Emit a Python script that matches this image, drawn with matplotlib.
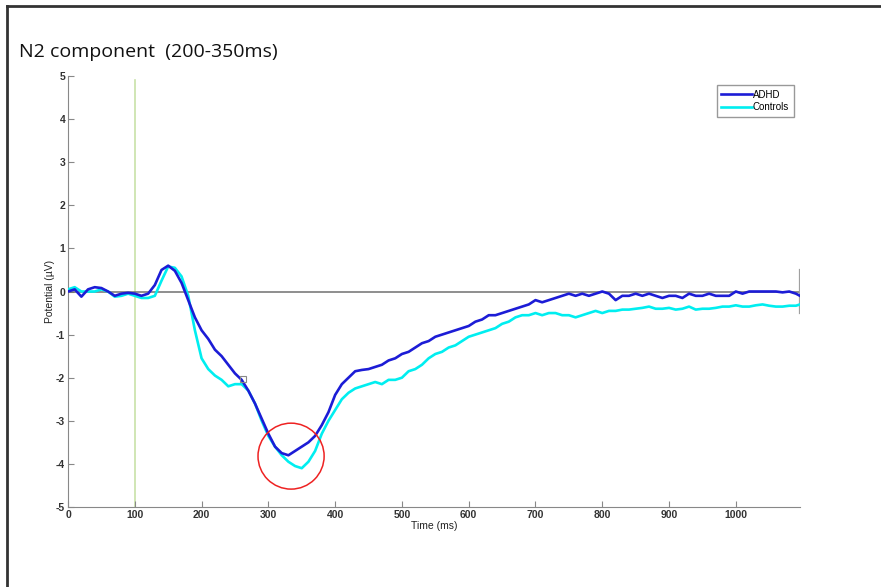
import matplotlib.pyplot as plt
from matplotlib.patches import Ellipse

plt.rcParams['font.family'] = ['Liberation Sans', 'DejaVu Sans']
plt.rcParams['axes.unicode_minus'] = False

time_ms = list(range(0, 1100, 10)) + [1096]

adhd = [0.0, 0.05, -0.12, 0.05, 0.1, 0.08, 0.0, -0.1, -0.05, -0.03,
        -0.05, -0.1, -0.05, 0.15, 0.5, 0.6, 0.48, 0.2, -0.2, -0.6,
        -0.9, -1.1, -1.35, -1.5, -1.7, -1.9, -2.05, -2.3, -2.6, -2.95,
        -3.3, -3.6, -3.75, -3.8, -3.7, -3.6, -3.5, -3.35, -3.1, -2.8,
        -2.4, -2.15, -2.0, -1.85, -1.82, -1.8, -1.75, -1.7, -1.6, -1.55,
        -1.45, -1.4, -1.3, -1.2, -1.15, -1.05, -1.0, -0.95, -0.9, -0.85,
        -0.8, -0.7, -0.65, -0.55, -0.55, -0.5, -0.45, -0.4, -0.35, -0.3,
        -0.2, -0.25, -0.2, -0.15, -0.1, -0.05, -0.1, -0.05, -0.1, -0.05,
        0.0, -0.05, -0.2, -0.1, -0.1, -0.05, -0.1, -0.05, -0.1, -0.15,
        -0.1, -0.1, -0.15, -0.05, -0.1, -0.1, -0.05, -0.1, -0.1, -0.1,
        0.0, -0.05, 0.0, 0.0, 0.0, 0.0, 0.0, -0.02, 0.0, -0.05, -0.1]

controls = [0.05, 0.1, 0.0, 0.0, 0.0, 0.05, 0.0, -0.12, -0.1, -0.05,
            -0.1, -0.15, -0.15, -0.1, 0.25, 0.58, 0.55, 0.35, -0.1, -0.9,
            -1.55, -1.8, -1.95, -2.05, -2.2, -2.15, -2.15, -2.3, -2.6, -3.0,
            -3.35, -3.6, -3.8, -3.95, -4.05, -4.1, -3.95, -3.7, -3.3, -3.0,
            -2.75, -2.5, -2.35, -2.25, -2.2, -2.15, -2.1, -2.15, -2.05, -2.05,
            -2.0, -1.85, -1.8, -1.7, -1.55, -1.45, -1.4, -1.3, -1.25, -1.15,
            -1.05, -1.0, -0.95, -0.9, -0.85, -0.75, -0.7, -0.6, -0.55, -0.55,
            -0.5, -0.55, -0.5, -0.5, -0.55, -0.55, -0.6, -0.55, -0.5, -0.45,
            -0.5, -0.45, -0.45, -0.42, -0.42, -0.4, -0.38, -0.35, -0.4, -0.4,
            -0.38, -0.42, -0.4, -0.35, -0.42, -0.4, -0.4, -0.38, -0.35, -0.35,
            -0.32, -0.35, -0.35, -0.32, -0.3, -0.33, -0.35, -0.35, -0.33, -0.33, -0.3]

fig = plt.figure(figsize=(8.81, 5.87), dpi=100)

# slide frame (top and left edges only)
fig.add_artist(plt.Line2D([0.008, 1.0], [0.99, 0.99], color='#333333', lw=2, transform=fig.transFigure))
fig.add_artist(plt.Line2D([0.008, 0.008], [0.0, 0.99], color='#333333', lw=2, transform=fig.transFigure))

fig.text(0.022, 0.903, 'N2 component  (200-350ms)', fontsize=14, family='Open Sans', color='#111111')

ax = fig.add_axes([0.0772, 0.1363, 0.8308, 0.7342])
ax.plot(time_ms, adhd, color='#1c1cd6', lw=1.9, label='ADHD', zorder=4)
ax.plot(time_ms, controls, color='#00eef0', lw=1.9, label='Controls', zorder=3)

ax.plot([100, 100], [-5, 4.9], color='#c8e2a8', lw=1.2, zorder=1)
ax.plot([0, 1096], [0, 0], color='#707070', lw=1.1, zorder=2)
ax.plot([1096, 1096], [-0.5, 0.5], color='#a0a0a0', lw=1.6, zorder=2)
ax.plot([262], [-2.02], marker='s', ms=4, mfc='none', mec='#888888', mew=0.8, zorder=5)
ax.add_patch(Ellipse((334, -3.82), 99, 1.53, fill=False, edgecolor='#ee2222', lw=1.1, zorder=6))

ax.set_xlim(0, 1096)
ax.set_ylim(-5, 5)
ax.set_xticks(range(0, 1001, 100))
ax.set_yticks(range(-5, 6))
ax.tick_params(direction='in', length=4, labelsize=7.5, color='#888888', labelcolor='#333333', pad=2)
for lab in ax.get_xticklabels() + ax.get_yticklabels():
    lab.set_fontweight('bold')
for s in ['top', 'right']:
    ax.spines[s].set_visible(False)
for s in ['left', 'bottom']:
    ax.spines[s].set_color('#888888')
ax.set_xlabel('Time (ms)', fontsize=7.5, color='#222222', labelpad=1)
ax.set_ylabel('Potential (\u00b5V)', fontsize=7.5, color='#222222', labelpad=1)

leg = ax.legend(loc='upper right', bbox_to_anchor=(0.998, 0.99), fontsize=7, handlelength=3.2,
                handletextpad=0.1, borderpad=0.45, labelspacing=0.3, fancybox=False, framealpha=1)
leg.get_frame().set_edgecolor('#999999')

fig.savefig('out.png', dpi=100)
